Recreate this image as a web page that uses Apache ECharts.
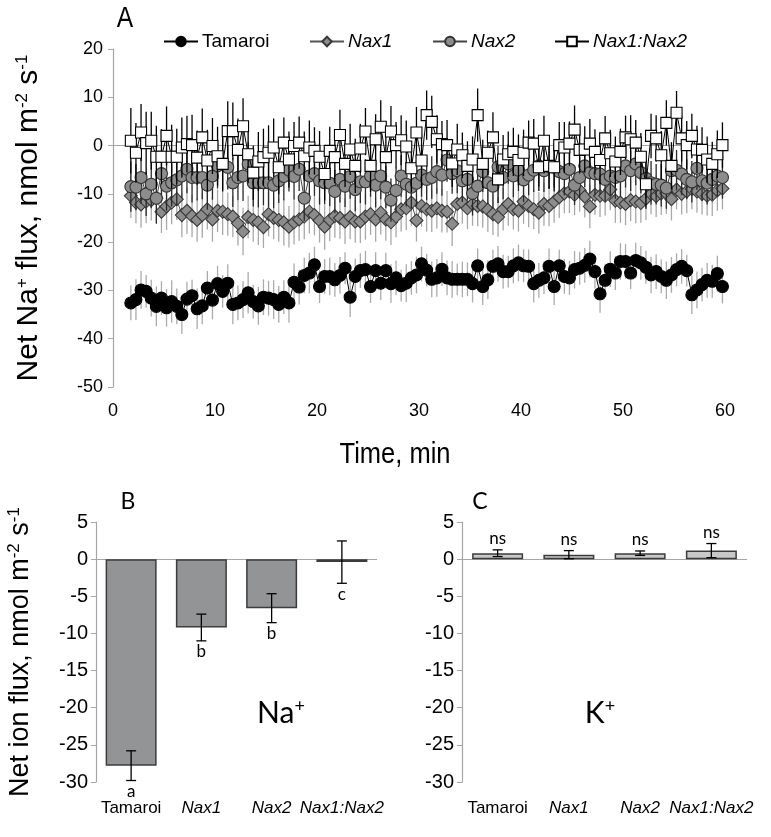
<!DOCTYPE html>
<html><head><meta charset="utf-8">
<script src="https://cdn.jsdelivr.net/npm/echarts@6/dist/echarts.min.js"></script>
<style>html,body{margin:0;padding:0;background:#fff}#c{width:771px;height:837px}</style>
</head><body><div id="c"></div>
<script>
// ---------- Panel A data ----------
const times = [1.75,2.25,2.75,3.25,3.75,4.25,4.75,5.25,5.75,6.25,6.75,7.25,7.75,8.25,8.75,9.25,9.75,10.25,10.75,11.25,11.75,12.25,12.75,13.25,13.75,14.25,14.75,15.25,15.75,16.25,16.75,17.25,17.75,18.25,18.75,19.25,19.75,20.25,20.75,21.25,21.75,22.25,22.75,23.25,23.75,24.25,24.75,25.25,25.75,26.25,26.75,27.25,27.75,28.25,28.75,29.25,29.75,30.25,30.75,31.25,31.75,32.25,32.75,33.25,33.75,34.25,34.75,35.25,35.75,36.25,36.75,37.25,37.75,38.25,38.75,39.25,39.75,40.25,40.75,41.25,41.75,42.25,42.75,43.25,43.75,44.25,44.75,45.25,45.75,46.25,46.75,47.25,47.75,48.25,48.75,49.25,49.75,50.25,50.75,51.25,51.75,52.25,52.75,53.25,53.75,54.25,54.75,55.25,55.75,56.25,56.75,57.25,57.75,58.25,58.75,59.25,59.75];

const tamaroi = [-32.6,-31.9,-29.9,-30.2,-31.6,-33.3,-31.6,-33.6,-32.3,-33.3,-35.0,-31.8,-31.1,-33.8,-33.2,-29.5,-32.0,-28.6,-30.2,-28.5,-32.9,-32.6,-31.9,-30.5,-32.3,-33.2,-31.4,-31.6,-31.9,
-32.9,-31.4,-32.6,-28.3,-29.3,-26.9,-26.4,-24.7,-29.2,-27.1,-27.1,-27.8,-26.9,-25.4,-31.4,-27.1,-25.9,-25.7,-29.2,-25.9,-28.5,-25.9,-28.6,-27.4,-29.0,-28.5,-27.4,-26.8,-24.5,-25.8,
-27.7,-27.4,-25.6,-27.4,-27.7,-27.7,-27.7,-27.7,-28.6,-24.9,-29.2,-27.8,-25.0,-24.5,-26.1,-26.1,-24.9,-24.3,-24.9,-25.0,-28.6,-27.9,-27.4,-25.0,-29.2,-24.9,-27.1,-27.4,-25.7,-25.4,
-24.8,-23.5,-26.1,-30.7,-27.9,-25.6,-26.4,-24.0,-24.0,-26.4,-23.8,-24.3,-25.2,-26.8,-26.1,-27.1,-27.9,-26.8,-25.7,-25.0,-25.9,-30.9,-29.9,-28.8,-27.9,-28.1,-26.5,-29.2];
const tamaroiErr = [3.6,4.2,3.9,3.4,3.8,4.1,3.5,3.9,4.4,3.7,4.0,3.6,3.3,4.2,3.8,3.5,4.0,3.7,3.4,3.9,4.1,3.6,3.8,4.3,3.5,3.9,3.7,3.6,4.0,
3.8,3.5,4.1,3.9,3.6,3.7,4.2,3.8,3.4,3.6,3.9,3.5,3.8,3.3,4.1,3.7,3.6,3.9,3.4,3.8,3.5,3.7,4.0,3.6,3.3,3.9,3.5,3.8,3.6,3.4,
3.7,3.9,3.5,3.6,3.8,3.3,3.7,3.5,3.9,3.6,3.8,4.0,3.4,3.7,3.5,3.3,3.6,3.8,3.4,3.5,3.9,3.6,3.4,3.7,3.8,3.3,3.6,3.5,3.9,3.4,
3.6,3.8,3.5,3.9,3.4,3.7,3.5,3.8,3.6,3.3,3.7,3.5,3.4,3.8,3.6,3.5,3.9,3.7,3.4,3.6,3.3,4.0,3.8,3.5,3.6,3.4,3.7,3.5];

const nax1 = [-10.4,-11.8,-12.2,-11.6,-11.3,-10.9,-13.7,-12.6,-11.8,-11.1,-14.4,-13.5,-14.6,-15.4,-14.4,-13.2,-15.3,-13.5,-13.7,-14.2,-14.7,-16.1,-17.8,-14.8,-15.4,-15.9,-16.9,-14.2,-15.0,
-15.4,-15.9,-16.8,-15.9,-15.3,-14.7,-13.7,-14.4,-15.5,-16.8,-15.4,-14.6,-15.0,-15.7,-14.8,-15.7,-15.7,-14.7,-14.2,-15.3,-13.9,-15.3,-15.9,-14.7,-13.2,-13.0,-11.8,-15.5,-12.5,-13.2,
-13.5,-13.0,-13.5,-13.7,-16.2,-12.1,-11.8,-13.0,-12.1,-12.5,-12.6,-13.3,-14.2,-14.8,-13.2,-12.1,-13.2,-13.5,-11.6,-12.5,-13.2,-13.9,-12.1,-12.5,-11.6,-10.7,-9.9,-9.5,-10.2,-9.3,
-10.6,-12.6,-10.2,-10.4,-10.4,-9.1,-11.4,-11.8,-12.1,-11.3,-11.6,-11.9,-11.0,-10.0,-10.5,-9.9,-9.9,-11.1,-9.1,-10.0,-9.5,-9.0,-9.5,-10.0,-10.4,-10.2,-9.3,-8.9];
const nax1Err = [4.6,4.3,4.8,4.5,4.2,4.7,4.4,4.9,4.5,4.3,4.6,4.8,4.4,4.5,4.7,4.2,4.6,4.4,4.8,4.5,4.3,4.6,4.9,4.4,4.5,4.7,4.3,4.6,4.4,
4.5,4.8,4.3,4.6,4.4,4.7,4.5,4.2,4.6,4.8,4.4,4.5,4.3,4.7,4.6,4.4,4.5,4.8,4.3,4.6,4.5,4.4,4.7,4.3,4.6,4.5,4.8,4.4,4.3,4.6,
4.4,4.2,4.5,4.3,4.6,4.1,4.4,4.3,4.5,4.2,4.4,4.6,4.3,4.1,4.4,4.5,4.2,4.3,4.6,4.4,4.1,4.3,4.5,4.2,4.4,4.3,4.1,4.5,4.2,4.4,
4.3,4.5,4.2,4.4,4.1,4.3,4.6,4.2,4.4,4.3,4.5,4.1,4.4,4.2,4.3,4.5,4.2,4.4,4.1,4.3,4.5,4.2,4.4,4.3,4.1,4.4,4.2,4.3];

const nax2 = [-8.5,-8.6,-6.6,-10.0,-8.0,-10.9,-5.8,-8.4,-7.7,-7.1,-6.3,-4.9,-6.6,-6.6,-6.6,-8.2,-6.3,-4.2,-3.8,-4.5,-7.7,-6.6,-6.3,-3.8,-7.7,-7.7,-7.7,-7.7,-8.2,
-7.3,-6.4,-5.1,-6.4,-4.9,-10.9,-6.3,-5.8,-7.3,-7.7,-7.8,-9.5,-7.0,-8.4,-6.4,-9.1,-7.5,-7.5,-6.3,-8.2,-6.3,-8.6,-11.3,-9.3,-6.3,-8.0,-8.6,-7.8,-6.1,-7.0,
-6.6,-5.4,-6.1,-3.0,-5.8,-5.2,-7.3,-7.0,-9.9,-8.4,-5.4,-7.7,-8.4,-4.4,-6.6,-3.8,-6.3,-5.1,-7.1,-6.1,-5.1,-4.2,-5.2,-4.4,-4.5,-5.4,-5.8,-4.9,-8.2,-6.6,
-4.2,-5.6,-5.8,-5.9,-7.0,-6.3,-6.6,-6.3,-4.2,-5.2,-3.8,-5.6,-6.8,-7.7,-8.0,-8.2,-8.8,-5.2,-5.1,-5.9,-7.0,-7.5,-4.7,-7.3,-7.8,-7.0,-6.3,-6.6];
const nax2Err = [5.2,4.8,5.5,4.6,5.0,5.3,4.7,5.1,4.9,5.4,4.6,5.0,5.2,4.8,4.5,5.1,4.9,4.7,5.3,4.6,5.0,4.8,5.2,4.5,4.9,5.1,4.7,5.0,4.8,
4.6,4.9,4.4,4.8,4.5,4.7,4.3,4.6,4.9,4.4,4.7,4.5,4.8,4.3,4.6,4.5,4.4,4.7,4.3,4.6,4.8,4.4,4.5,4.7,4.3,4.6,4.4,4.8,4.5,4.3,
4.4,4.6,4.3,4.5,4.2,4.7,4.4,4.3,4.6,4.5,4.2,4.4,4.6,4.3,4.5,4.1,4.4,4.3,4.6,4.2,4.5,4.3,4.4,4.6,4.2,4.3,4.5,4.4,4.1,4.3,
4.4,4.2,4.5,4.3,4.6,4.1,4.4,4.3,4.5,4.2,4.4,4.3,4.1,4.5,4.2,4.4,4.3,4.6,4.2,4.4,4.1,4.3,4.5,4.2,4.4,4.3,4.2,4.4];

const nax1nax2 = [1.0,-1.5,2.7,0.5,1.0,-2.3,-2.3,2.0,-2.3,-2.3,-0.4,0.3,0.1,-2.5,1.7,-3.1,-0.1,-2.2,-3.8,3.0,3.0,-0.9,4.0,-1.8,-5.6,-3.3,-2.4,-1.5,-0.4,
-4.5,0.6,-2.9,-0.1,0.6,-2.2,-0.4,-1.1,-2.3,-5.9,-1.1,-2.4,2.2,-3.8,-0.8,-4.2,-0.6,2.9,-4.2,1.3,3.9,-2.4,2.9,0.1,1.1,-0.2,-4.7,2.7,-3.1,6.3,
4.9,1.3,0.3,0.1,-3.7,-0.8,-2.0,-4.2,-2.9,6.3,-3.8,-1.5,1.7,-7.0,-2.9,-1.8,-1.3,-3.0,-1.5,0.6,0.4,-4.5,1.0,-4.2,-4.5,0.1,-0.4,0.4,3.3,-0.9,
-0.8,0.4,-1.3,-3.0,1.5,-1.6,-3.3,-1.3,1.7,1.3,0.6,-2.3,-8.0,2.0,1.5,-2.0,4.7,-4.2,6.8,1.5,0.1,2.0,-0.8,-0.9,-2.9,-3.8,-1.8,0.1];
const nax1nax2Err = [6.8,6.2,5.9,6.5,6.0,6.4,5.7,6.1,6.6,5.8,6.2,5.9,6.3,5.6,6.0,6.4,5.8,6.1,5.7,6.2,5.9,6.5,5.8,6.0,5.6,6.1,5.9,5.7,6.0,
5.6,5.2,5.8,5.0,5.4,5.1,5.6,4.9,5.3,5.5,5.0,5.4,5.2,4.8,5.3,5.6,5.1,4.9,5.4,5.2,5.5,5.0,5.3,4.8,5.2,5.4,5.0,5.3,5.6,5.1,
5.4,5.0,4.8,5.2,4.9,5.3,4.7,5.1,4.8,5.5,5.0,4.6,5.2,4.9,5.1,4.7,5.0,5.3,4.8,4.6,5.1,4.9,5.2,4.7,5.0,4.8,5.3,4.6,5.0,4.9,
4.8,5.1,4.7,5.0,4.6,4.9,5.2,4.8,4.5,5.0,4.7,4.9,5.1,4.6,4.8,5.0,4.7,4.9,4.5,4.8,5.0,4.6,4.9,4.7,4.8,4.6,4.9,4.7];

// ---------- Panels B & C data ----------
const genotypes = ['Tamaroi','Nax1','Nax2','Nax1:Nax2'];
const italicNames = [false,true,true,true];
const naMean = [-27.8,-9.2,-6.6,-0.4];
const naErr = [2.0,1.8,1.95,2.85];
const naLetters = ['a','b','b','c'];
const kMean = [0.8,0.6,0.8,1.15];
const kErr = [0.45,0.55,0.3,0.95];
const kLetters = ['ns','ns','ns','ns'];

// ---------- styling ----------
const ARIAL = "'Liberation Sans',Arial,sans-serif";
const CAL = "Lato,'Open Sans',sans-serif";
const AXIS_GREY = '#a6a6a6';

const chart = echarts.init(document.getElementById('c'), null, {renderer:'canvas'});

function pairs(xs, ys){ return xs.map((t,i)=>[t, ys[i]]); }

function errSeriesA(name, ys, es, color, z){
  return {
    type:'custom', name:name+' err', xAxisIndex:0, yAxisIndex:0, z:z, silent:true,
    encode:{x:0, y:1},
    data: times.map((t,i)=>[t, ys[i], es[i]]),
    renderItem:function(params, api){
      const x = api.value(0), y = api.value(1), e = api.value(2);
      const p1 = api.coord([x, y+e]), p2 = api.coord([x, y-e]);
      return {type:'line', shape:{x1:p1[0],y1:p1[1],x2:p2[0],y2:p2[1]}, style:{stroke:color, lineWidth:1.3}};
    }
  };
}

function lineSeriesA(name, ys, symbol, size, fill, border, lineColor, z){
  return {
    type:'line', name:name, xAxisIndex:0, yAxisIndex:0, z:z,
    data: pairs(times, ys),
    symbol:symbol, symbolSize:size, showAllSymbol:true,
    itemStyle:{color:fill, borderColor:border, borderWidth:1.1, opacity:1},
    lineStyle:{color:lineColor, width:1},
    emphasis:{disabled:true}
  };
}

function barErrSeries(gi, means, errs, letters, below){
  return {
    type:'custom', xAxisIndex:gi, yAxisIndex:gi, z:10, silent:true, clip:false,
    encode:{x:0, y:1},
    data: means.map((m,i)=>[i, m, errs[i]]),
    renderItem:function(params, api){
      const i = api.value(0), m = api.value(1), e = api.value(2);
      const top = api.coord([i, m+e]), bot = api.coord([i, m-e]);
      const x = top[0], cap = 5;
      const st = {stroke:'#000', lineWidth:1.3};
      const ty = below ? bot[1]+11 : top[1]-11;
      return {type:'group', children:[
        {type:'line', shape:{x1:x,y1:top[1],x2:x,y2:bot[1]}, style:st},
        {type:'line', shape:{x1:x-cap,y1:top[1],x2:x+cap,y2:top[1]}, style:st},
        {type:'line', shape:{x1:x-cap,y1:bot[1],x2:x+cap,y2:bot[1]}, style:st},
        {type:'text', x:x, y:ty, style:{text:letters[params.dataIndex], align:'center', verticalAlign:'middle', textAlign:'center', textVerticalAlign:'middle', fontSize:17, fontFamily:CAL, fill:'#000'}}
      ]};
    }
  };
}

const zeroLine = {silent:true, symbol:'none', animation:false, label:{show:false},
  lineStyle:{color:AXIS_GREY, type:'solid', width:1.2}, data:[{yAxis:0}]};

const catData = genotypes.map((g,i)=>({value:g, textStyle:{fontStyle: italicNames[i]?'italic':'normal'}}));

const supRich = {sup:{fontSize:17, fontFamily:ARIAL, padding:[0,0,13,0], color:'#000'}};

function legendItem(name, left, italic){
  return {left:left, top:27, itemWidth:34, itemHeight:12, itemGap:0, selectedMode:false,
    data:[{name:name, textStyle:{fontStyle: italic?'italic':'normal'}}],
    textStyle:{fontFamily:ARIAL, fontSize:19, color:'#000', padding:[0,0,0,-1]}};
}

const option = {
  animation:false,
  backgroundColor:'#fff',
  legend:[
    legendItem('Tamaroi',158,false),
    legendItem('Nax1',304,true),
    legendItem('Nax2',427,true),
    legendItem('Nax1:Nax2',549,true)
  ],
  grid:[
    {left:113, top:49, width:612, height:338},
    {left:96, top:522, width:281, height:260},
    {left:462, top:522, width:285, height:260}
  ],
  xAxis:[
    {type:'value', gridIndex:0, min:0, max:60, interval:10,
     axisLine:{show:false}, axisTick:{show:false}, splitLine:{show:false},
     axisLabel:{fontFamily:ARIAL, fontSize:18, color:'#000', margin:15}},
    {type:'category', gridIndex:1, data:catData,
     axisLine:{show:false}, axisTick:{show:false}, splitLine:{show:false},
     axisLabel:{fontFamily:ARIAL, fontSize:17, color:'#000', margin:18, interval:0}},
    {type:'category', gridIndex:2, data:catData,
     axisLine:{show:false}, axisTick:{show:false}, splitLine:{show:false},
     axisLabel:{fontFamily:ARIAL, fontSize:17, color:'#000', margin:18, interval:0}}
  ],
  yAxis:[
    {type:'value', gridIndex:0, min:-50, max:20, interval:10,
     axisLine:{show:true, lineStyle:{color:AXIS_GREY, width:1.2}},
     axisTick:{show:true, length:5, lineStyle:{color:AXIS_GREY}},
     splitLine:{show:false},
     axisLabel:{fontFamily:ARIAL, fontSize:18, color:'#000', margin:10},
     name:'Net Na{sup|+} flux, nmol m{sup|-2} s{sup|-1}', nameLocation:'middle', nameRotate:90, nameGap:69,
     nameTextStyle:{fontFamily:ARIAL, fontSize:30, color:'#000', rich:supRich}},
    {type:'value', gridIndex:1, min:-30, max:5, interval:5,
     axisLine:{show:true, lineStyle:{color:AXIS_GREY, width:1.2}},
     axisTick:{show:true, length:5, lineStyle:{color:AXIS_GREY}},
     splitLine:{show:false},
     axisLabel:{fontFamily:ARIAL, fontSize:20, color:'#000', margin:8},
     name:'Net ion flux, nmol m{sup|-2} s{sup|-1}', nameLocation:'middle', nameRotate:90, nameGap:60,
     nameTextStyle:{fontFamily:ARIAL, fontSize:27, color:'#000', rich:supRich}},
    {type:'value', gridIndex:2, min:-30, max:5, interval:5,
     axisLine:{show:true, lineStyle:{color:AXIS_GREY, width:1.2}},
     axisTick:{show:true, length:5, lineStyle:{color:AXIS_GREY}},
     splitLine:{show:false},
     axisLabel:{fontFamily:ARIAL, fontSize:20, color:'#000', margin:8}}
  ],
  series:[
    Object.assign(errSeriesA('Tamaroi', tamaroi, tamaroiErr, '#ababab', 1), {markLine:zeroLine}),
    lineSeriesA('Tamaroi', tamaroi, 'circle', 12, '#000', '#000', '#000', 2),
    errSeriesA('Nax1', nax1, nax1Err, '#a8a8a8', 3),
    lineSeriesA('Nax1', nax1, 'diamond', 13, '#8c8c8c', '#3a3a3a', '#555', 4),
    errSeriesA('Nax2', nax2, nax2Err, '#2a2a2a', 5),
    lineSeriesA('Nax2', nax2, 'circle', 12, '#8c8c8c', '#333', '#444', 6),
    errSeriesA('Nax1:Nax2', nax1nax2, nax1nax2Err, '#000', 7),
    lineSeriesA('Nax1:Nax2', nax1nax2, 'rect', 11, '#fff', '#000', '#000', 8),

    {type:'bar', xAxisIndex:1, yAxisIndex:1, data:naMean, barWidth:51, z:5,
     itemStyle:{color:'#939496', borderColor:'#3c3c3c', borderWidth:1.5},
     markLine:zeroLine, emphasis:{disabled:true}},
    barErrSeries(1, naMean, naErr, naLetters, true),

    {type:'bar', xAxisIndex:2, yAxisIndex:2, data:kMean, barWidth:51, z:5,
     itemStyle:{color:'#c8c8c8', borderColor:'#3c3c3c', borderWidth:1.5},
     markLine:zeroLine, emphasis:{disabled:true}},
    barErrSeries(2, kMean, kErr, kLetters, false)
  ],
  graphic:[
    {type:'text', x:125, y:19, scaleX:0.85, style:{text:'A', align:'center', verticalAlign:'middle', fontSize:29, fontFamily:ARIAL, fill:'#000'}},
    {type:'text', x:395, y:455, scaleX:0.85, style:{text:'Time, min', align:'center', verticalAlign:'middle', fontSize:30, fontFamily:ARIAL, fill:'#000'}},
    {type:'text', x:128, y:502, style:{text:'B', align:'center', verticalAlign:'middle', fontSize:23, fontFamily:CAL, fill:'#000'}},
    {type:'text', x:480, y:502, style:{text:'C', align:'center', verticalAlign:'middle', fontSize:23, fontFamily:CAL, fill:'#000'}},
    {type:'text', x:281, y:713, style:{text:'Na{s|+}', align:'center', verticalAlign:'middle', fontSize:30, fontFamily:CAL, fill:'#000',
      rich:{s:{fontSize:18, fontFamily:CAL, padding:[0,0,14,0], fill:'#000'}}}},
    {type:'text', x:600, y:713, style:{text:'K{s|+}', align:'center', verticalAlign:'middle', fontSize:30, fontFamily:CAL, fill:'#000',
      rich:{s:{fontSize:18, fontFamily:CAL, padding:[0,0,14,0], fill:'#000'}}}}
  ]
};
chart.setOption(option);
</script>
</body></html>
